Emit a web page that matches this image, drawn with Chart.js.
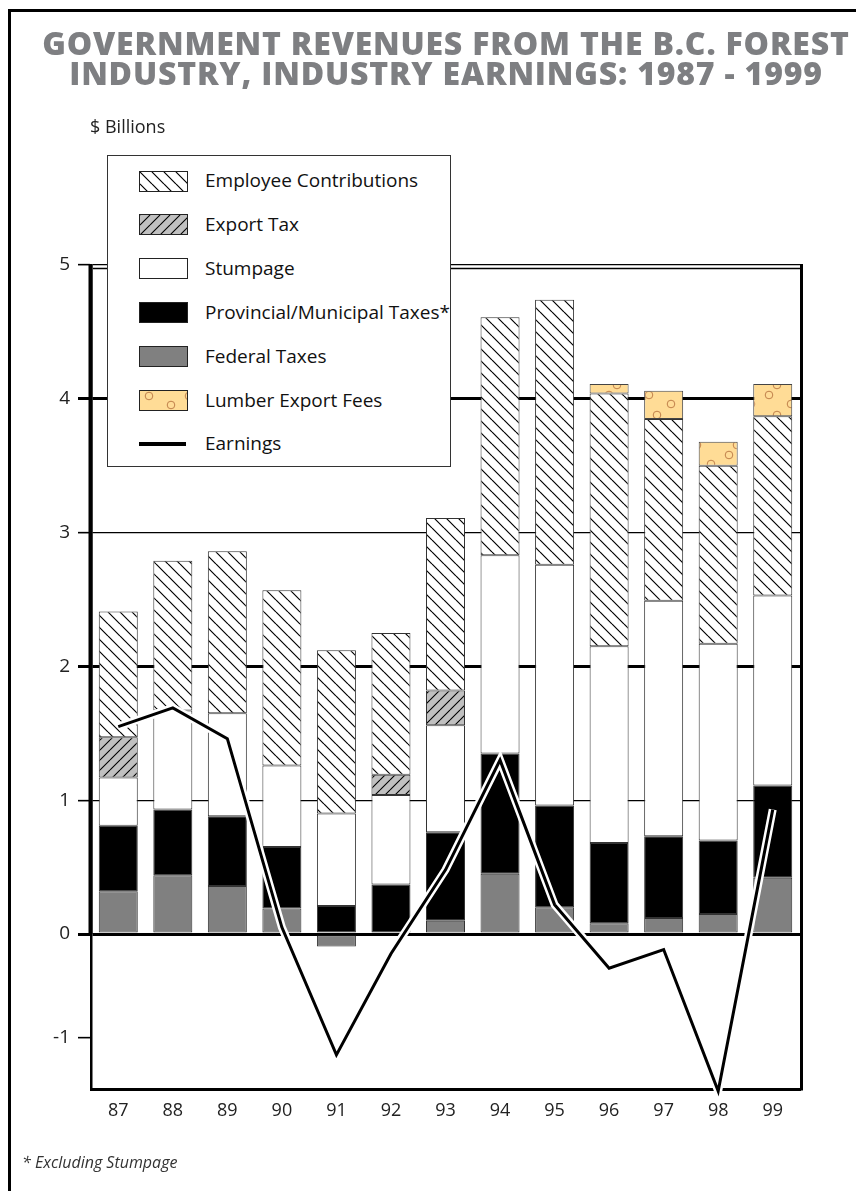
<!DOCTYPE html>
<html>
<head>
<meta charset="utf-8">
<title>Government Revenues from the B.C. Forest Industry, Industry Earnings: 1987 - 1999</title>
<script src="https://cdn.jsdelivr.net/npm/chart.js@4.4.1/dist/chart.umd.min.js"></script>
<style>
  html, body { margin: 0; padding: 0; background: #fff; }
  #page { position: relative; width: 856px; height: 1191px; overflow: hidden; font-family: 'Open Sans', 'Noto Sans', sans-serif; }
  #outline { position: absolute; left: 8px; top: 9px; width: 900px; height: 1300px; border: 3px solid #000; box-sizing: border-box; }
  #chart { position: absolute; left: 0; top: 0; }
  #title { position: absolute; left: 0; top: 28px; width: 892px; text-align: center; font-weight: 800; font-size: 32px; letter-spacing: 0.8px; line-height: 29.5px; color: #7e7f82; white-space: nowrap; }
  #unit { position: absolute; left: 90px; top: 117px; font-size: 18px; line-height: 18px; color: #222; }
  #legend { position: absolute; left: 107px; top: 155px; width: 344px; height: 312px; box-sizing: border-box; border: 1.3px solid #333; background: #fff; }
  .row { position: absolute; left: 0; height: 0; width: 100%; }
  .sw { position: absolute; left: 31px; top: -10.5px; width: 49px; height: 21px; box-sizing: border-box; border: 1.5px solid #222; }
  .sw.line { top: -2px; height: 4px; left: 31px; width: 47px; border: none; background: #000; }
  .lab { position: absolute; left: 97px; top: -13px; font-size: 19px; line-height: 25px; white-space: nowrap; color: #111; }
  #note { position: absolute; left: 22px; top: 1153px; font-size: 16px; line-height: 19px; font-style: italic; color: #333; }
</style>
</head>
<body>
<div id="page">
  <div id="outline"></div>
  <canvas id="chart" width="856" height="1191"></canvas>
  <div id="title">GOVERNMENT REVENUES FROM THE B.C. FOREST<br>INDUSTRY, INDUSTRY EARNINGS: 1987 - 1999</div>
  <div id="unit">$ Billions</div>
  <div id="legend"></div>
  <div id="note">* Excluding Stumpage</div>
</div>
<script>
// ---- data ($ billions) ----
const YEARS = ['87', '88', '89', '90', '91', '92', '93', '94', '95', '96', '97', '98', '99'];
const FEDERAL_TAXES     = [0.32, 0.44, 0.36, 0.19, -0.12, null, 0.10, 0.45, 0.20, 0.08, 0.12, 0.15, 0.42];
const PROVINCIAL_TAXES  = [0.49, 0.49, 0.52, 0.46, 0.21, 0.37, 0.66, 0.90, 0.76, 0.60, 0.61, 0.55, 0.69];
const STUMPAGE          = [0.36, 0.74, 0.77, 0.61, 0.69, 0.67, 0.80, 1.48, 1.80, 1.47, 1.76, 1.47, 1.42];
const EXPORT_TAX        = [0.30, null, null, null, null, 0.15, 0.26, null, null, null, null, null, null];
const EMPLOYEE_CONTRIB  = [0.94, 1.12, 1.21, 1.31, 1.22, 1.06, 1.29, 1.78, 1.98, 1.89, 1.36, 1.33, 1.34];
const LUMBER_EXPORT_FEES = [null, null, null, null, null, null, null, null, null, 0.07, 0.21, 0.18, 0.24];
const EARNINGS          = [1.55, 1.69, 1.46, 0.05, -1.17, -0.19, 0.48, 1.30, 0.22, -0.33, -0.15, -1.52, 0.93];
const Y_TICKS = [-1, 0, 1, 2, 3, 4, 5];
const Y_MIN = -1.5;
const Y_MAX = 5;

// ---- fill tiles ----
function makeTile(w, h, paint) {
  const c = document.createElement('canvas');
  c.width = w; c.height = h;
  paint(c.getContext('2d'), w, h);
  return c;
}
const tiles = {
  employee: makeTile(12, 12, (g, w) => {
    g.fillStyle = '#fff'; g.fillRect(0, 0, w, w);
    g.strokeStyle = '#000'; g.lineWidth = 1.2;
    g.beginPath();
    for (const k of [-w, 0, w]) { g.moveTo(0, k); g.lineTo(w, k + w); }
    g.stroke();
  }),
  exportTax: makeTile(10, 10, (g, w) => {
    g.fillStyle = '#c0c0c0'; g.fillRect(0, 0, w, w);
    g.strokeStyle = '#000'; g.lineWidth = 1.1;
    g.beginPath();
    for (const k of [0, w, 2 * w]) { g.moveTo(0, k); g.lineTo(w, k - w); }
    g.stroke();
  }),
  lumber: makeTile(40, 30, (g, w, h) => {
    g.fillStyle = '#ffdc96'; g.fillRect(0, 0, w, h);
    g.strokeStyle = '#c0804a'; g.lineWidth = 1;
    for (const [x, y] of [[9, 5], [31, 14], [17, 25]]) {
      g.beginPath(); g.arc(x, y, 3.8, 0, Math.PI * 2); g.stroke();
    }
  })
};

const canvas = document.getElementById('chart');
const ctx = canvas.getContext('2d');
const fills = {
  federal: '#808080',
  provincial: '#000000',
  stumpage: '#ffffff',
  exportTax: ctx.createPattern(tiles.exportTax, 'repeat'),
  employee: ctx.createPattern(tiles.employee, 'repeat'),
  lumber: ctx.createPattern(tiles.lumber, 'repeat')
};

// ---- value axis with a compressed negative section ----
const NEG_UNIT = 0.772; // height of one negative unit relative to a positive unit
class SplitLinearScale extends Chart.LinearScale {
  _negShare() {
    const neg = -Math.min(this.min, 0) * NEG_UNIT;
    const pos = Math.max(this.max, 0);
    return neg / (neg + pos);
  }
  getPixelForValue(value) {
    if (value === null || value === undefined || isNaN(value)) return NaN;
    const f = this._negShare();
    const d = value < 0
      ? f * (value - this.min) / (-this.min)
      : f + (1 - f) * value / this.max;
    return this.getPixelForDecimal(d);
  }
  getValueForPixel(pixel) {
    const f = this._negShare();
    const d = this.getDecimalForPixel(pixel);
    return d < f ? this.min + (d / f) * (-this.min) : ((d - f) / (1 - f)) * this.max;
  }
}
SplitLinearScale.id = 'splitLinear';
SplitLinearScale.defaults = Chart.LinearScale.defaults;
Chart.register(SplitLinearScale);

// ---- frame around the plot ----
const plotFrame = {
  id: 'plotFrame',
  afterDraw(chart) {
    const { ctx, chartArea: a, scales: { y } } = chart;
    const zero = y.getPixelForValue(0);
    ctx.save();
    ctx.strokeStyle = '#000';
    ctx.lineCap = 'butt';
    const seg = (w, x1, y1, x2, y2) => { ctx.lineWidth = w; ctx.beginPath(); ctx.moveTo(x1, y1); ctx.lineTo(x2, y2); ctx.stroke(); };
    seg(4, a.left - 0.5, a.top - 0.5, a.left - 0.5, zero);
    seg(1.3, a.left + 2, a.top + 3.5, a.right, a.top + 3.5);
    seg(3, a.right + 1.5, a.top - 1, a.right + 1.5, a.bottom + 1.5);
    ctx.restore();
  }
};

const barCommon = {
  type: 'bar', stack: 'revenue', order: 2,
  borderColor: '#333', borderWidth: 1, borderSkipped: false,
  barPercentage: 0.715, categoryPercentage: 1
};

const LEGEND_ITEMS = [
  { label: 'Employee Contributions', tile: tiles.employee },
  { label: 'Export Tax', tile: tiles.exportTax },
  { label: 'Stumpage', color: fills.stumpage },
  { label: 'Provincial/Municipal Taxes*', color: fills.provincial },
  { label: 'Federal Taxes', color: fills.federal },
  { label: 'Lumber Export Fees', tile: tiles.lumber },
  { label: 'Earnings', line: true }
];

new Chart(canvas, {
  type: 'bar',
  data: {
    labels: YEARS,
    datasets: [
      { ...barCommon, label: 'Federal Taxes', data: FEDERAL_TAXES, backgroundColor: fills.federal },
      { ...barCommon, label: 'Provincial/Municipal Taxes*', data: PROVINCIAL_TAXES, backgroundColor: fills.provincial },
      { ...barCommon, label: 'Stumpage', data: STUMPAGE, backgroundColor: fills.stumpage },
      { ...barCommon, label: 'Export Tax', data: EXPORT_TAX, backgroundColor: fills.exportTax },
      { ...barCommon, label: 'Employee Contributions', data: EMPLOYEE_CONTRIB, backgroundColor: fills.employee },
      { ...barCommon, label: 'Lumber Export Fees', data: LUMBER_EXPORT_FEES, backgroundColor: fills.lumber, borderColor: '#444' },
      { type: 'line', label: 'Earnings', data: EARNINGS, stack: 'earnings', order: 0,
        borderColor: '#000', borderWidth: 3, borderJoinStyle: 'miter', pointRadius: 0, tension: 0, clip: false },
      { type: 'line', label: 'Earnings casing', data: EARNINGS, stack: 'casing', order: 1,
        borderColor: '#fff', borderWidth: 8, borderJoinStyle: 'miter', pointRadius: 0, tension: 0, clip: false }
    ]
  },
  options: {
    responsive: false,
    animation: false,
    devicePixelRatio: 1,
    layout: { padding: { left: 0, top: 265, right: 56, bottom: 62 } },
    plugins: { legend: { display: false }, tooltip: { enabled: false } },
    scales: {
      x: {
        stacked: true,
        grid: { display: false, drawTicks: false },
        border: { display: true, color: '#000', width: 3 },
        ticks: { color: '#222', font: { family: 'Open Sans', size: 18 }, padding: 11, maxRotation: 0 },
        afterFit(s) { s.height = 40; }
      },
      y: {
        type: 'splitLinear',
        stacked: true,
        min: Y_MIN,
        max: Y_MAX,
        afterBuildTicks(s) { s.ticks = Y_TICKS.map(v => ({ value: v })); },
        grid: {
          color: c => (c.tick && c.tick.value < 0) ? 'rgba(0,0,0,0)' : '#000',
          lineWidth: c => (c.tick && c.tick.value % 2 === 0) ? 3 : 1.3,
          tickColor: '#000',
          tickWidth: c => (c.tick && c.tick.value % 2 === 0) ? 3 : 1.6,
          tickLength: 13
        },
        border: { display: true, color: '#000', width: 2.5 },
        ticks: { color: '#222', font: { family: 'Open Sans', size: 19 }, padding: 8, callback: v => String(v) },
        afterFit(s) { s.width = 91; }
      }
    }
  },
  plugins: [plotFrame]
});

// ---- legend box ----
const legend = document.getElementById('legend');
LEGEND_ITEMS.forEach((item, i) => {
  const row = document.createElement('div');
  row.className = 'row';
  row.style.top = (25 + i * 43.9) + 'px';
  const sw = document.createElement('div');
  sw.className = 'sw' + (item.line ? ' line' : '');
  if (item.tile) sw.style.backgroundImage = 'url(' + item.tile.toDataURL() + ')';
  else if (item.color) sw.style.background = item.color;
  const lab = document.createElement('div');
  lab.className = 'lab';
  lab.textContent = item.label;
  row.appendChild(sw);
  row.appendChild(lab);
  legend.appendChild(row);
});
</script>
</body>
</html>
